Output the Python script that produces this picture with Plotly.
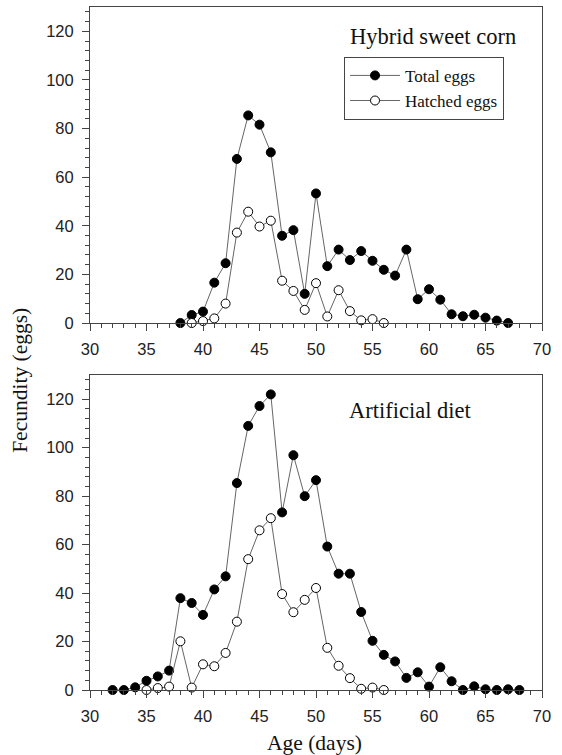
import plotly.graph_objects as go

# ---- data ----
top_total_days = list(range(38, 68))
top_total = [0, 3.3, 4.7, 16.6, 24.6, 67.5, 85.4, 81.6, 70.2, 35.9, 38.2, 12, 53.3, 23.4,
             30.2, 25.9, 29.6, 25.6, 21.9, 19.5, 30.2, 9.8, 13.9, 9.6, 3.6, 2.8, 3.4, 2.2, 1.0, 0]
top_hatched_days = list(range(39, 57))
top_hatched = [0, 0.8, 1.9, 8.0, 37.2, 45.8, 39.7, 42.1, 17.4, 13.2, 5.4, 16.4, 2.7, 13.5,
               4.9, 1.1, 1.6, 0]

bot_total_days = list(range(32, 69))
bot_total = [0, 0, 1.1, 3.8, 5.6, 8.0, 37.9, 35.9, 31.0, 41.5, 46.9, 85.4, 109.0, 117.2, 122.0,
             73.3, 96.9, 80.0, 86.6, 59.2, 48.0, 48.0, 32.2, 20.3, 14.5, 11.8, 5.0, 7.3, 1.4,
             9.4, 3.6, 0, 1.5, 0.3, 0, 0.3, 0]
bot_hatched_days = list(range(35, 57))
bot_hatched = [0, 0.8, 1.4, 20.1, 1.0, 10.6, 9.8, 15.3, 28.2, 54.0, 65.9, 70.9, 39.6, 32.1,
               37.2, 42.1, 17.4, 10.0, 4.9, 0.5, 1.0, 0]

x_ticks = [30, 35, 40, 45, 50, 55, 60, 65, 70]
y_ticks = [0, 20, 40, 60, 80, 100, 120]

panel_titles = ["Hybrid sweet corn", "Artificial diet"]
series_names = ["Total eggs", "Hatched eggs"]

# ---- styles ----
LINE = dict(color="#666666", width=1)
SERIF = "Times New Roman, Liberation Serif, serif"
SANS = "Arial, Liberation Sans, sans-serif"

fig = go.Figure()

def add_pair(xs1, ys1, xs2, ys2, xa, ya, show):
    fig.add_trace(go.Scatter(x=xs1, y=ys1, mode="lines+markers", name=series_names[0],
                             line=LINE, xaxis=xa, yaxis=ya, showlegend=show,
                             marker=dict(symbol="circle", size=9, color="black",
                                         line=dict(color="black", width=1)),
                             cliponaxis=False))
    fig.add_trace(go.Scatter(x=xs2, y=ys2, mode="lines+markers", name=series_names[1],
                             line=LINE, xaxis=xa, yaxis=ya, showlegend=show,
                             marker=dict(symbol="circle", size=9, color="white",
                                         line=dict(color="black", width=1)),
                             cliponaxis=False))

add_pair(top_total_days, top_total, top_hatched_days, top_hatched, "x", "y", True)
add_pair(bot_total_days, bot_total, bot_hatched_days, bot_hatched, "x2", "y2", False)

xcommon = dict(range=[30, 70], tickvals=x_ticks, ticks="outside", ticklen=7, tickwidth=1,
               tickcolor="#444", showline=True, linecolor="#444", linewidth=1, mirror=True,
               showgrid=False, zeroline=False, ticklabelstandoff=4,
               tickfont=dict(family=SANS, size=16.5, color="#222"),
               minor=dict(dtick=1, ticks="outside", ticklen=4, tickcolor="#444"))
ycommon = dict(range=[0, 130], tickvals=y_ticks, ticks="outside", ticklen=7, tickwidth=1,
               tickcolor="#444", showline=True, linecolor="#444", linewidth=1, mirror=True,
               showgrid=False, zeroline=False, ticklabelstandoff=5,
               tickfont=dict(family=SANS, size=16.5, color="#222"),
               minor=dict(dtick=4, tick0=0, ticks="outside", ticklen=4, tickcolor="#444"))

fig.update_layout(
    width=562, height=755,
    margin=dict(l=90, r=20, t=7, b=65),
    plot_bgcolor="white", paper_bgcolor="white",
    xaxis=dict(domain=[0, 1], anchor="y", **xcommon),
    yaxis=dict(domain=[0.5373, 1], anchor="x", **ycommon),
    xaxis2=dict(domain=[0, 1], anchor="y2", **xcommon),
    yaxis2=dict(domain=[0, 0.4612], anchor="x2", **ycommon),
    legend=dict(x=0.562, y=0.927, xanchor="left", yanchor="top",
                bordercolor="#444", borderwidth=1, bgcolor="white",
                font=dict(family=SERIF, size=17, color="#111"),
                tracegroupgap=0, itemwidth=50),
    showlegend=True,
)

fig.add_annotation(text=panel_titles[0], x=60.35, y=118, xref="x", yref="y",
                   xanchor="center", yanchor="middle",
                   showarrow=False, font=dict(family=SERIF, size=22.5, color="#111"))
fig.add_annotation(text=panel_titles[1], x=58.36, y=115.5, xref="x2", yref="y2",
                   xanchor="center", yanchor="middle",
                   showarrow=False, font=dict(family=SERIF, size=22.5, color="#111"))
fig.add_annotation(text="Fecundity (eggs)", x=-0.155, y=0.454, xref="paper", yref="paper",
                   xanchor="center", yanchor="middle",
                   textangle=-90, showarrow=False,
                   font=dict(family=SERIF, size=21.5, color="#111"))
fig.add_annotation(text="Age (days)", x=0.496, y=-0.078, xref="paper", yref="paper",
                   showarrow=False, xanchor="center", yanchor="middle",
                   font=dict(family=SERIF, size=21.5, color="#111"))

fig.write_html("out.html", post_script="document.body.style.margin='0';",
               config={"displayModeBar": False})
